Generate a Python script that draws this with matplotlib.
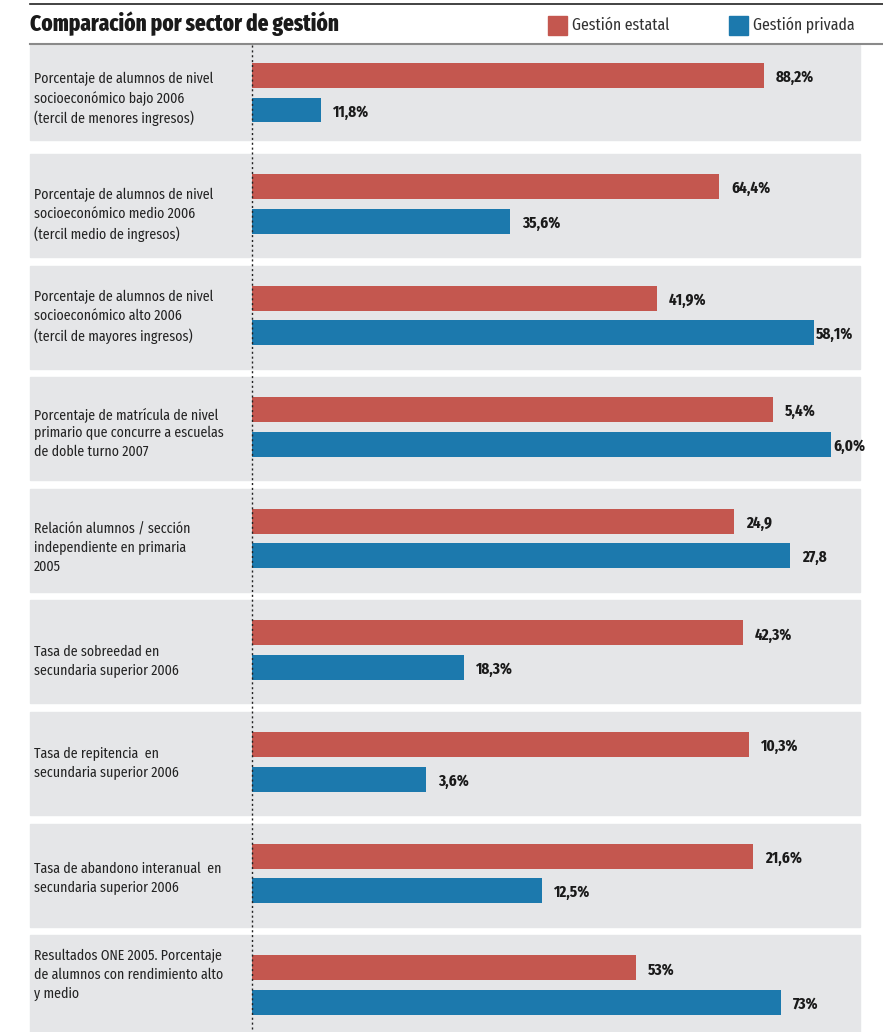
import matplotlib
matplotlib.use("Agg")
import matplotlib.pyplot as plt
from matplotlib.patches import Rectangle
from matplotlib.lines import Line2D

# data
labels = [
    "Porcentaje de alumnos de nivel\nsocioeconómico bajo 2006\n(tercil de menores ingresos)",
    "Porcentaje de alumnos de nivel\nsocioeconómico medio 2006\n(tercil medio de ingresos)",
    "Porcentaje de alumnos de nivel\nsocioeconómico alto 2006\n(tercil de mayores ingresos)",
    "Porcentaje de matrícula de nivel\nprimario que concurre a escuelas\nde doble turno 2007",
    "Relación alumnos / sección\nindependiente en primaria\n2005",
    "Tasa de sobreedad en\nsecundaria superior 2006",
    "Tasa de repitencia  en\nsecundaria superior 2006",
    "Tasa de abandono interanual  en\nsecundaria superior 2006",
    "Resultados ONE 2005. Porcentaje\nde alumnos con rendimiento alto\ny medio",
]
estatal = [88.2, 64.4, 41.9, 5.4, 24.9, 42.3, 10.3, 21.6, 53]
privada = [11.8, 35.6, 58.1, 6.0, 27.8, 18.3, 3.6, 12.5, 73]
estatal_txt = ["88,2%", "64,4%", "41,9%", "5,4%", "24,9", "42,3%", "10,3%", "21,6%", "53%"]
privada_txt = ["11,8%", "35,6%", "58,1%", "6,0%", "27,8", "18,3%", "3,6%", "12,5%", "73%"]
# each panel has its own scale in the original graphic
xmax = [104.7, 83.8, 62.9, 6.3, 31.4, 52.4, 12.6, 26.2, 83.9]

RED = "#C4574F"
BLUE = "#1C79AD"
BG = "#E5E6E8"

TXT = ["Fira Sans Condensed", "DejaVu Sans"]
NUM = ["Fira Sans Extra Condensed", "DejaVu Sans"]
plt.rcParams["font.family"] = TXT

W, H = 883, 1032
fig = plt.figure(figsize=(W / 100, H / 100), dpi=100)


def fx(px):
    return px / W


def fy(py):
    return 1 - py / H


# header
fig.add_artist(Line2D([fx(30), fx(883)], [fy(4), fy(4)], color="#222222", lw=1.2))
fig.add_artist(Line2D([fx(30), fx(883)], [fy(44), fy(44)], color="#8a8a8a", lw=1.5))
fig.text(fx(30), fy(24), "Comparación por sector de gestión", fontsize=16.5,
         fontweight="heavy", family=NUM, color="#1a1a1a", va="center", ha="left")
for x0, col, name in [(548, RED, "Gestión estatal"), (729, BLUE, "Gestión privada")]:
    fig.add_artist(Rectangle((fx(x0), fy(35)), fx(19), 19 / H, color=col))
    fig.text(fx(x0 + 24), fy(25), name, fontsize=12.3, family=NUM, color="#333333",
             va="center", ha="left")

# panel layout (pixels from top)
tops = [43] + [154 + 111.6 * i for i in range(8)]
label_y = [99, 215, 317, 433, 548, 661.5, 763.5, 878.5, 975]
PH = 103
for i in range(len(labels)):
    top = tops[i]
    vis_top = max(top, 45)
    bot = min(top + PH, H)
    if i == 0:
        bot = 140
    fig.add_artist(Rectangle((fx(30), fy(bot)), fx(830), (bot - vis_top) / H,
                             color=BG, zorder=0))
    fig.text(fx(34), fy(label_y[i]), labels[i], fontsize=10,
             color="#222222", va="center", ha="left", linespacing=1.4)

    ax = fig.add_axes([fx(252), fy(top + PH), fx(608), PH / H])
    ax.set_facecolor("none")
    ax.set_xlim(0, xmax[i])
    ax.set_ylim(PH, 0)
    ax.axis("off")
    yr, yb = 32.5, 67
    ax.barh([yr], [estatal[i]], height=25, color=RED)
    ax.barh([yb], [privada[i]], height=25, color=BLUE)
    for y, v, t in [(yr, estatal[i], estatal_txt[i]), (yb, privada[i], privada_txt[i])]:
        end_px = v / xmax[i] * 608
        off = 12 if end_px < 560 else 2
        ax.annotate(t, (v, y), xytext=(off, -2), textcoords="offset pixels",
                    fontsize=11.8, fontweight="bold", family=NUM, color="#1a1a1a",
                    va="center", ha="left")

# dotted baseline
fig.add_artist(Line2D([fx(252), fx(252)], [fy(45), fy(H)], color="#222222",
                      lw=1, linestyle=(0, (1.5, 2))))

fig.savefig("out.png", dpi=100)
